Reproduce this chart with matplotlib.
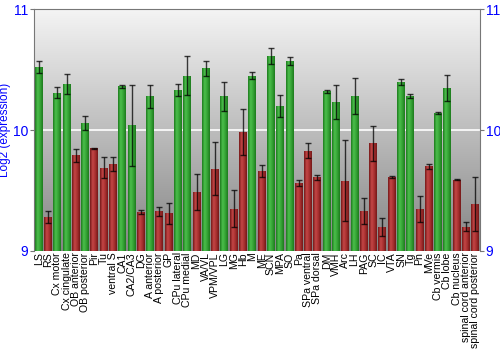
import numpy as np
import matplotlib.pyplot as plt
from matplotlib.colors import LinearSegmentedColormap

plt.rcParams['font.family'] = ['Liberation Sans', 'DejaVu Sans']

regions = ['LS', 'RS', 'Cx motor', 'Cx cingulate', 'OB anterior', 'OB posterior',
           'Pir', 'Tu', 'ventral S', 'CA1', 'CA2/CA3', 'DG', 'A anterior',
           'A posterior', 'GP', 'CPu lateral', 'CPu medial', 'MD', 'VA/VL',
           'VPM/VPL', 'LG', 'MG', 'Hb', 'M', 'ME', 'SCN', 'MPA', 'SO', 'Pa',
           'SPa ventral', 'SPa dorsal', 'DM', 'VMH', 'Arc', 'LH', 'PAG', 'SC',
           'IC', 'VTA', 'SN', 'Tg', 'Pn', 'MVe', 'Cb vermis', 'Cb lobe',
           'Cb nucleus', 'spinal cord anterior', 'spinal cord posterior']
expression = [10.52, 9.28, 10.31, 10.38, 9.79, 10.06,
              9.85, 9.69, 9.72, 10.36, 10.04, 9.32, 10.28,
              9.33, 9.31, 10.33, 10.45, 9.49, 10.51,
              9.68, 10.28, 9.35, 9.98, 10.45, 9.66, 10.61, 10.20, 10.57, 9.56,
              9.83, 9.61, 10.32, 10.23, 9.58, 10.28, 9.33, 9.89,
              9.20, 9.61, 10.40, 10.28, 9.35, 9.70, 10.14, 10.35,
              9.59, 9.20, 9.39]
error = [0.047, 0.047, 0.047, 0.083, 0.057, 0.057,
         0.005, 0.083, 0.06, 0.01, 0.334, 0.018, 0.094,
         0.037, 0.086, 0.052, 0.161, 0.148, 0.061,
         0.218, 0.12, 0.156, 0.19, 0.029, 0.051, 0.068, 0.093, 0.033, 0.025,
         0.062, 0.02, 0.011, 0.141, 0.335, 0.149, 0.104, 0.146,
         0.075, 0.007, 0.025, 0.019, 0.108, 0.023, 0.008, 0.108,
         0.005, 0.039, 0.224]

fig = plt.figure(figsize=(5, 3.5), dpi=100)
ax = fig.add_axes([0.068, 0.283, 0.892, 0.691])

x = np.arange(len(regions))
ax.set_xlim(-0.5, len(regions) - 0.5)
ax.set_ylim(9, 11)

# vertical gray gradient behind the bars
bg = LinearSegmentedColormap.from_list('bg', ['#858585', '#bdbdbd', '#f4f4f4'])
ax.imshow(np.linspace(0, 1, 256).reshape(-1, 1), cmap=bg, aspect='auto',
          extent=(-0.5, len(regions) - 0.5, 9, 11), origin='lower', zorder=0)
ax.axhline(10, color='white', lw=1.2, zorder=1)

greens = LinearSegmentedColormap.from_list('g', ['#1d7a1d', '#4cbf4c', '#35a335', '#1d7a1d'])
reds = LinearSegmentedColormap.from_list('r', ['#741818', '#c44646', '#a83030', '#741818'])
grad = np.linspace(0, 1, 64).reshape(1, -1)

bars = ax.bar(x, np.array(expression) - 9, bottom=9, width=0.86, color='none',
              edgecolor='none', zorder=2)
for b, v in zip(bars, expression):
    cmap = greens if v > 10 else reds
    im = ax.imshow(grad, cmap=cmap, aspect='auto', zorder=2,
                   extent=(b.get_x(), b.get_x() + b.get_width(), 9, v))
    im.set_clip_path(b)

ax.errorbar(x, expression, yerr=error, fmt='none', ecolor='black', elinewidth=1,
            capsize=2, capthick=1, alpha=0.75, zorder=3)

ax.set_xticks(x)
ax.set_xticklabels(regions, rotation=90, fontsize=7.6)
ax.tick_params(axis='x', length=0, pad=1)

ax.set_yticks([9, 10, 11])
ax.tick_params(axis='y', colors='#777777', labelcolor='blue', labelsize=10,
               length=3, pad=1, left=True, right=True, labelleft=True, labelright=True)
ax.set_ylabel('Log2 (expression)', color='blue', fontsize=8.5)
ax.yaxis.set_label_coords(-0.052, 0.5)

for side in ['left', 'right', 'top']:
    ax.spines[side].set_color('#777777')
ax.spines['bottom'].set_visible(False)

fig.savefig('out.png', dpi=100)
